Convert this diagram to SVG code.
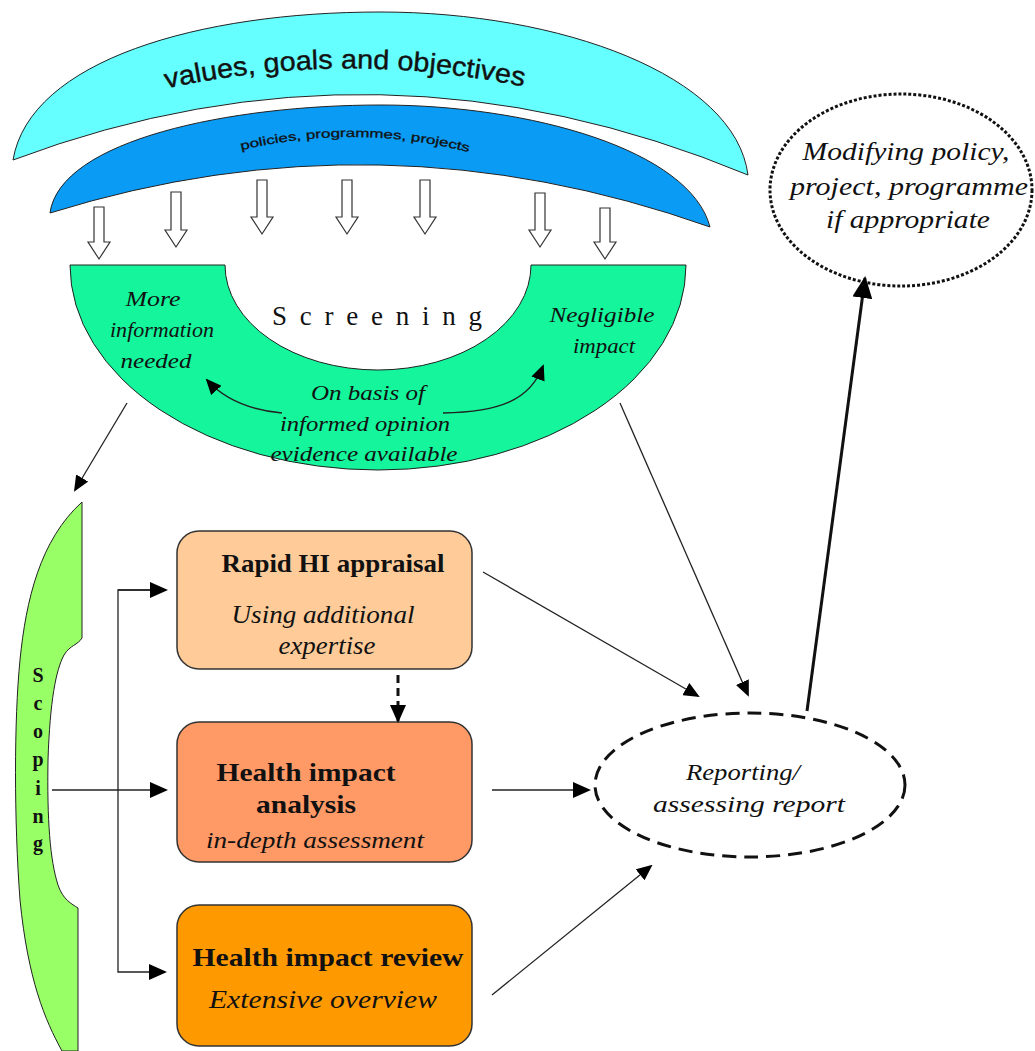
<svg xmlns="http://www.w3.org/2000/svg" width="1035" height="1051" viewBox="0 0 1035 1051">
<style>
.band{stroke:#222;stroke-width:1}
.holl{fill:#fff;stroke:#333;stroke-width:1.2}
.it{font-family:"Liberation Serif",serif;font-style:italic;fill:#111}
.bd{font-family:"Liberation Serif",serif;font-weight:bold;fill:#111}
.box{stroke:#333;stroke-width:1.5}
.ln{fill:none;stroke:#222;stroke-width:1.3}
</style>
<defs>
<marker id="ah" markerUnits="userSpaceOnUse" markerWidth="18" markerHeight="16" refX="16" refY="8" orient="auto"><path d="M0,0 L18,8 L0,16 Z" fill="#000"/></marker>
<marker id="ahs" markerUnits="userSpaceOnUse" markerWidth="16" markerHeight="14" refX="14" refY="7" orient="auto"><path d="M0,0 L16,7 L0,14 Z" fill="#000"/></marker>
<marker id="ahb" markerUnits="userSpaceOnUse" markerWidth="22" markerHeight="20" refX="20" refY="10" orient="auto"><path d="M0,0 L22,10 L0,20 Z" fill="#000"/></marker>
<path id="arcV" d="M160,90 Q345,48 530,88"/>
<path id="arcP" d="M238,151 Q355,122 472,153"/>
</defs>

<g id="values">
<path class="band" fill="#66FFFF" d="M13,160 C30,60 200,12 380,12 C560,12 735,75 748,175 Q380,22 13,160 Z"/>
<text font-family="Liberation Sans,Arial,sans-serif" font-size="27" fill="#111" stroke="#111" stroke-width="0.4"><textPath href="#arcV" startOffset="50%" text-anchor="middle" textLength="360" lengthAdjust="spacingAndGlyphs">values, goals and objectives</textPath></text>
</g>
<g id="policies">
<path class="band" fill="#0A9BF5" d="M50,213 C60,140 230,105 381,105 C530,105 690,150 710,227 Q380,110 50,213 Z"/>
<text font-family="Liberation Sans,Arial,sans-serif" font-size="12" fill="#111" stroke="#111" stroke-width="0.3"><textPath href="#arcP" startOffset="50%" text-anchor="middle" textLength="230" lengthAdjust="spacingAndGlyphs">policies, programmes, projects</textPath></text>
</g>
<g id="down-arrows">
<path class="holl" d="M94,207 L104,207 L104,242 L110,242 L99,259 L88,242 L94,242 Z"/>
<path class="holl" d="M171,192 L181,192 L181,230 L187,230 L176,247 L165,230 L171,230 Z"/>
<path class="holl" d="M257,180 L267,180 L267,217 L273,217 L262,234 L251,217 L257,217 Z"/>
<path class="holl" d="M342,180 L352,180 L352,217 L358,217 L347,234 L336,217 L342,217 Z"/>
<path class="holl" d="M420,180 L430,180 L430,217 L436,217 L425,234 L414,217 L420,217 Z"/>
<path class="holl" d="M535,193 L545,193 L545,230 L551,230 L540,247 L529,230 L535,230 Z"/>
<path class="holl" d="M600,208 L610,208 L610,242 L616,242 L605,259 L594,242 L600,242 Z"/>
</g>

<g id="screening">
<path fill="#14F59C" stroke="#222" stroke-width="1" d="M70,265 L225,265 A153,105 0 0 0 531,265 L686,265 A308,205 0 0 1 70,265 Z"/>
<text font-family="Liberation Serif,serif" font-size="27" fill="#111" x="272" y="325" textLength="210" lengthAdjust="spacing">Screening</text>
<text class="it" font-size="22" text-anchor="middle"><tspan x="153" y="306" textLength="55" lengthAdjust="spacingAndGlyphs">More</tspan><tspan x="162" y="337" textLength="104" lengthAdjust="spacingAndGlyphs">information</tspan><tspan x="156" y="368" textLength="71" lengthAdjust="spacingAndGlyphs">needed</tspan></text>
<text class="it" font-size="22" text-anchor="middle"><tspan x="602" y="322" textLength="105" lengthAdjust="spacingAndGlyphs">Negligible</tspan><tspan x="604" y="353" textLength="62" lengthAdjust="spacingAndGlyphs">impact</tspan></text>
<text class="it" font-size="22" text-anchor="middle"><tspan x="368" y="400" textLength="114" lengthAdjust="spacingAndGlyphs">On basis of</tspan><tspan x="365" y="431" textLength="170" lengthAdjust="spacingAndGlyphs">informed opinion</tspan><tspan x="364" y="461" textLength="187" lengthAdjust="spacingAndGlyphs">evidence available</tspan></text>
<path class="ln" d="M282,413 C250,410 225,400 207,380" marker-end="url(#ahs)"/>
<path class="ln" d="M443,413 C500,412 530,400 543,366" marker-end="url(#ahs)"/>
</g>

<g id="scoping">
<path fill="#99FF66" stroke="#222" stroke-width="1" d="M82,502 L82,638 C78,645 70,645 64,655 C56,670 50,700 48,760 C47,820 50,860 58,885 C63,900 72,904 78,908 L78,1051 L62,1051 C45,1020 28,980 20,900 C14,820 14,720 20,660 C26,600 40,540 82,502 Z"/>
<text class="bd" font-size="20" text-anchor="middle"><tspan x="38" y="682">S</tspan><tspan x="38" y="710">c</tspan><tspan x="38" y="738">o</tspan><tspan x="38" y="766">p</tspan><tspan x="38" y="795">i</tspan><tspan x="38" y="823">n</tspan><tspan x="38" y="850">g</tspan></text>
</g>

<g id="rapid">
<rect class="box" x="177" y="531" width="295" height="138" rx="22" fill="#FFCC99"/>
<text class="bd" font-size="25" x="333" y="572" text-anchor="middle" textLength="223" lengthAdjust="spacingAndGlyphs">Rapid HI appraisal</text>
<text class="it" font-size="25" text-anchor="middle"><tspan x="323" y="623" textLength="183" lengthAdjust="spacingAndGlyphs">Using additional</tspan><tspan x="327" y="654" textLength="97" lengthAdjust="spacingAndGlyphs">expertise</tspan></text>
</g>
<g id="analysis">
<rect class="box" x="177" y="722" width="295" height="140" rx="22" fill="#FF9966"/>
<text class="bd" font-size="26" text-anchor="middle"><tspan x="306" y="781" textLength="179" lengthAdjust="spacingAndGlyphs">Health impact</tspan><tspan x="306" y="813" textLength="100" lengthAdjust="spacingAndGlyphs">analysis</tspan></text>
<text class="it" font-size="24" x="315" y="848" text-anchor="middle" textLength="218" lengthAdjust="spacingAndGlyphs">in-depth assessment</text>
</g>
<g id="review">
<rect class="box" x="177" y="905" width="295" height="141" rx="22" fill="#FF9900"/>
<text class="bd" font-size="26" x="328" y="966" text-anchor="middle" textLength="271" lengthAdjust="spacingAndGlyphs">Health impact review</text>
<text class="it" font-size="26" x="323" y="1008" text-anchor="middle" textLength="228" lengthAdjust="spacingAndGlyphs">Extensive overview</text>
</g>

<g id="reporting">
<ellipse cx="750" cy="785" rx="155" ry="72" fill="none" stroke="#111" stroke-width="3" stroke-dasharray="14,8"/>
<text class="it" font-size="24" text-anchor="middle"><tspan x="743" y="780" textLength="114" lengthAdjust="spacingAndGlyphs">Reporting/</tspan><tspan x="749" y="812" textLength="192" lengthAdjust="spacingAndGlyphs">assessing report</tspan></text>
</g>
<g id="modifying">
<ellipse cx="901" cy="190" rx="131" ry="96" fill="none" stroke="#111" stroke-width="3" stroke-dasharray="3,2"/>
<text class="it" font-size="26" text-anchor="middle"><tspan x="906" y="160" textLength="207" lengthAdjust="spacingAndGlyphs">Modifying policy,</tspan><tspan x="909" y="195" textLength="238" lengthAdjust="spacingAndGlyphs">project, programme</tspan><tspan x="908" y="228" textLength="164" lengthAdjust="spacingAndGlyphs">if appropriate</tspan></text>
</g>

<g id="connectors">
<line class="ln" x1="127" y1="403" x2="75" y2="490" marker-end="url(#ahs)"/>
<line class="ln" x1="620" y1="403" x2="748" y2="695" marker-end="url(#ahs)"/>
<polyline class="ln" points="165,590 118,590 118,972 165,972" marker-end="url(#ah)"/>
<line class="ln" x1="118" y1="590" x2="166" y2="590" marker-end="url(#ah)"/>
<line class="ln" x1="52" y1="790" x2="166" y2="790" marker-end="url(#ah)"/>
<line x1="398" y1="675" x2="398" y2="721" style="stroke:#111;stroke-width:3;stroke-dasharray:8,5" marker-end="url(#ah)"/>
<line class="ln" x1="483" y1="572" x2="698" y2="696" marker-end="url(#ahs)"/>
<line class="ln" x1="492" y1="790" x2="589" y2="790" marker-end="url(#ah)"/>
<line class="ln" x1="492" y1="995" x2="651" y2="866" marker-end="url(#ahs)"/>
<line x1="807" y1="711" x2="865" y2="278" style="stroke:#111;stroke-width:3" marker-end="url(#ahb)"/>
</g>
</svg>
